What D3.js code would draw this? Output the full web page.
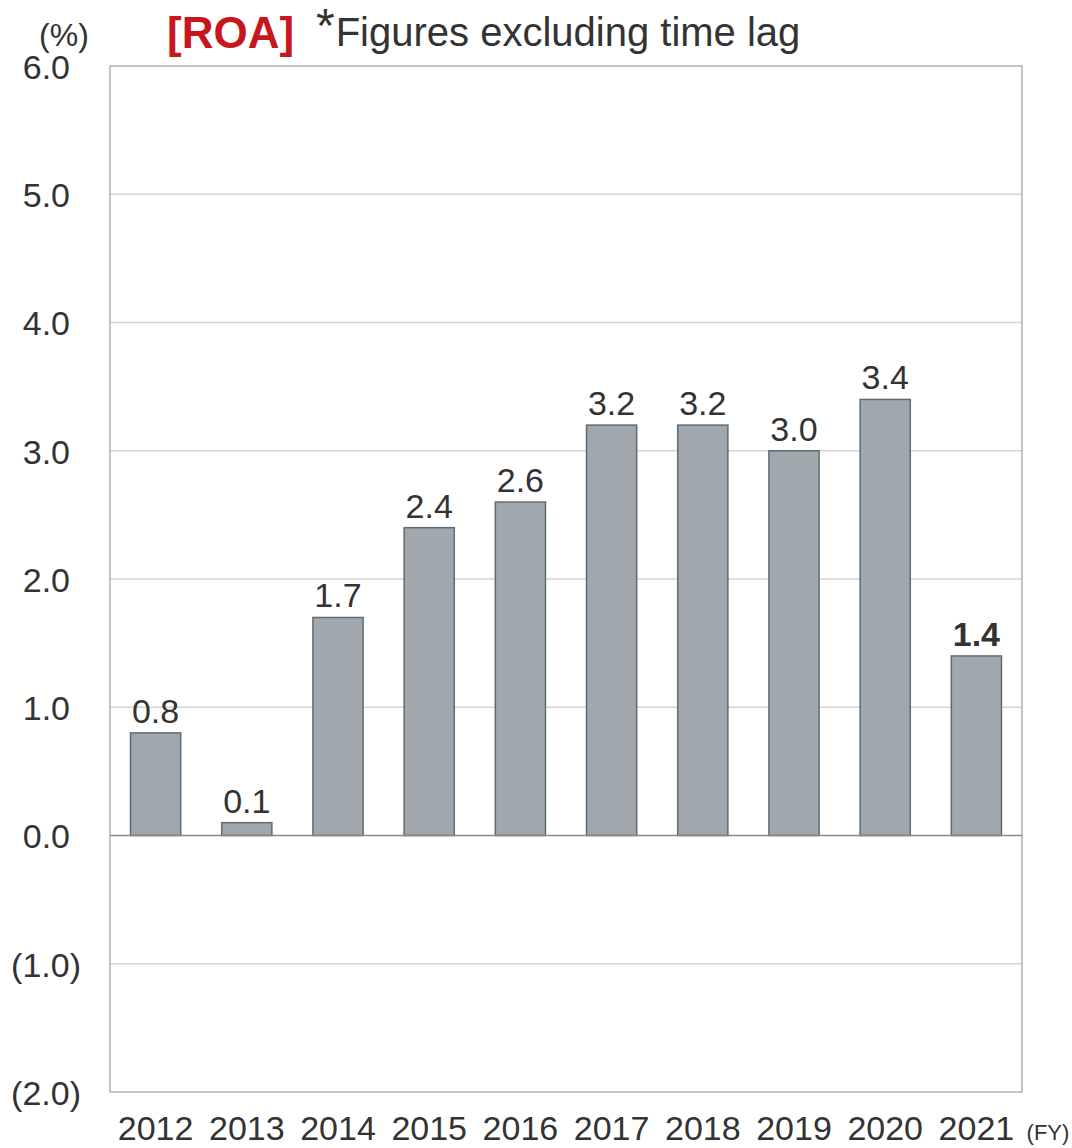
<!DOCTYPE html>
<html>
<head>
<meta charset="utf-8">
<script src="https://cdn.jsdelivr.net/npm/d3@7"></script>
<style>
  html, body { margin: 0; padding: 0; background: #fff; }
  svg { display: block; font-family: "Liberation Sans", Arial, sans-serif; }
</style>
</head>
<body>
<svg id="chart" width="1072" height="1148"></svg>
<script>
// Fiscal years and ROA (%) values
const years = ["2012", "2013", "2014", "2015", "2016", "2017", "2018", "2019", "2020", "2021"];
const roa = [0.8, 0.1, 1.7, 2.4, 2.6, 3.2, 3.2, 3.0, 3.4, 1.4];
const yTicks = [-2, -1, 0, 1, 2, 3, 4, 5, 6];
const tickLabel = v => v < 0 ? `(${Math.abs(v).toFixed(1)})` : v.toFixed(1);

const svg = d3.select("#chart");
const plot = { left: 110, right: 1022, top: 66, bottom: 1092 };
const textColor = "#333";

const x = d3.scaleBand()
  .domain(years)
  .range([plot.left, plot.right])
  .paddingInner(0.45)
  .paddingOuter(0.225);

const y = d3.scaleLinear()
  .domain([-2, 6])
  .range([plot.bottom, plot.top]);

// Horizontal gridlines
svg.append("g")
  .selectAll("line")
  .data(yTicks.filter(v => v !== 0 && v !== -2 && v !== 6))
  .join("line")
  .attr("x1", plot.left).attr("x2", plot.right)
  .attr("y1", d => y(d)).attr("y2", d => y(d))
  .attr("stroke", "#d4d4d4").attr("stroke-width", 1.3);

// Plot frame
svg.append("rect")
  .attr("x", plot.left).attr("y", plot.top)
  .attr("width", plot.right - plot.left).attr("height", plot.bottom - plot.top)
  .attr("fill", "none").attr("stroke", "#a6a6a6").attr("stroke-width", 1.3);

// Bars
svg.append("g")
  .selectAll("rect")
  .data(years.map((yr, i) => ({ yr, v: roa[i] })))
  .join("rect")
  .attr("x", d => x(d.yr))
  .attr("width", x.bandwidth())
  .attr("y", d => y(Math.max(0, d.v)))
  .attr("height", d => Math.abs(y(d.v) - y(0)))
  .attr("fill", "#a0a8ae")
  .attr("stroke", "#5f6b72")
  .attr("stroke-width", 1.5);

// Zero baseline
svg.append("line")
  .attr("x1", plot.left).attr("x2", plot.right)
  .attr("y1", y(0)).attr("y2", y(0))
  .attr("stroke", "#8a8a8a").attr("stroke-width", 1.3);

// Y axis labels: negative values in parentheses, closing paren hangs past the digits
const yAxis = d3.axisLeft(y).tickValues(yTicks).tickFormat(tickLabel).tickSize(0).tickPadding(0);
const gy = svg.append("g").attr("transform", "translate(70,0)").call(yAxis);
gy.select(".domain").remove();
gy.selectAll("text")
  .attr("font-family", "Liberation Sans, Arial, sans-serif")
  .attr("font-size", 34).attr("fill", textColor)
  .attr("dy", "0.36em")
  .attr("x", d => d < 0 ? 11 : 0);

// X axis labels
const xAxis = d3.axisBottom(x).tickSize(0).tickPadding(0);
const gx = svg.append("g").attr("transform", "translate(0,1140)").call(xAxis);
gx.select(".domain").remove();
gx.selectAll("text")
  .attr("font-family", "Liberation Sans, Arial, sans-serif")
  .attr("font-size", 34).attr("fill", textColor)
  .attr("dy", 0).attr("y", 0);

// Value labels
svg.append("g")
  .selectAll("text")
  .data(years.map((yr, i) => ({ yr, v: roa[i], last: i === years.length - 1 })))
  .join("text")
  .attr("x", d => x(d.yr) + x.bandwidth() / 2)
  .attr("y", d => y(d.v) - 10)
  .attr("text-anchor", "middle")
  .attr("font-size", 34)
  .attr("font-weight", d => d.last ? "bold" : "normal")
  .attr("fill", textColor)
  .text(d => d.v.toFixed(1));

// Units
svg.append("text").attr("x", 64).attr("y", 46).attr("text-anchor", "middle")
  .attr("font-size", 32).attr("fill", textColor).text("(%)");
svg.append("text").attr("x", 1048).attr("y", 1140).attr("text-anchor", "middle")
  .attr("font-size", 22).attr("fill", textColor).text("(FY)");

// Title
svg.append("text").attr("x", 167).attr("y", 48)
  .attr("font-size", 44).attr("font-weight", "bold").attr("fill", "#c8161d").text("[ROA]");
const note = svg.append("text").attr("x", 316).attr("y", 46)
  .attr("font-size", 40).attr("fill", textColor);
note.append("tspan").attr("dy", -4).attr("font-size", 48).text("*");
note.append("tspan").attr("dy", 4).attr("dx", 1).text("Figures excluding time lag");
</script>
</body>
</html>
